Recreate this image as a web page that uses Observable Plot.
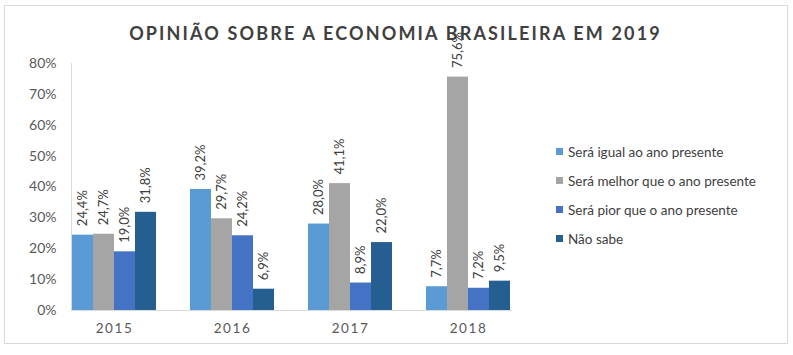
<!DOCTYPE html>
<html><head><meta charset="utf-8">
<script src="https://cdn.jsdelivr.net/npm/d3@7"></script>
<script src="https://cdn.jsdelivr.net/npm/@observablehq/plot@0.6"></script>
<style>
body{margin:0;background:#fff;font-family:Lato,"Open Sans",sans-serif;}
#wrap{position:relative;width:793px;height:355px;}
#border{position:absolute;left:4px;top:5px;width:784px;height:339px;border:1px solid #d9d9d9;box-sizing:border-box;}
#chart{position:absolute;left:0;top:0;}
#legend{position:absolute;left:556px;top:137px;font-size:13.5px;color:#404040;}
#legend div{height:29px;display:flex;align-items:center;}
#legend span.sw{display:inline-block;width:7px;height:7px;margin-right:5px;}
g[aria-label="fx-axis tick label"] text{letter-spacing:1.6px;}
</style></head>
<body><div id="wrap"><div id="border"></div><div id="chart"></div><div id="legend"></div></div>
<script>
const years = ["2015","2016","2017","2018"];
const series = ["Será igual ao ano presente","Será melhor que o ano presente","Será pior que o ano presente","Não sabe"];
const colors = ["#5B9BD5","#A5A5A5","#4472C4","#255E91"];
const igual  = [24.4, 39.2, 28.0, 7.7];
const melhor = [24.7, 29.7, 41.1, 75.6];
const pior   = [19.0, 24.2, 8.9, 7.2];
const naoSabe= [31.8, 6.9, 22.0, 9.5];
const yTicks = [0,10,20,30,40,50,60,70,80];
const title = "OPINIÃO SOBRE A ECONOMIA BRASILEIRA EM 2019";

const cols = [igual, melhor, pior, naoSabe];
const data = [];
years.forEach((y,i)=>series.forEach((s,j)=>data.push({year:y, series:s, value:cols[j][i]})));
const fmt = v => v.toFixed(1).replace(".", ",") + "%";

const plot = Plot.plot({
  width: 793, height: 355,
  marginLeft: 55, marginRight: 265, marginTop: 63, marginBottom: 45,
  style: {fontFamily: "Lato, 'Open Sans', sans-serif", background: "transparent", overflow: "visible"},
  fx: {domain: years, paddingInner: 0.271, paddingOuter: 0.1356, axis: null},
  x: {domain: series, padding: 0, axis: null},
  y: {domain: [0, 80], axis: null},
  color: {domain: series, range: colors},
  marks: [
    Plot.axisFx({anchor: "bottom", tickSize: 0, tickPadding: 13, fontSize: 13.5, fill: "#595959", label: null}),
    Plot.axisY({ticks: yTicks, tickSize: 0, tickPadding: 15, tickFormat: d => d + "%", fontSize: 14, fill: "#595959", label: null}),
    Plot.frame({anchor: "left", stroke: "#d9d9d9", facet: "super"}),
    Plot.frame({anchor: "bottom", stroke: "#d9d9d9", facet: "super"}),
    Plot.barY(data, {fx: "year", x: "series", y: "value", fill: "series", inset: 0}),
    Plot.text(data, {fx: "year", x: "series", y: "value", text: d => fmt(d.value), rotate: -90, textAnchor: "start", lineAnchor: "middle", dy: -9, fontSize: 13, fill: "#404040"}),
    Plot.text([title], {frameAnchor: "top", dx: 104, dy: -36, fontSize: 18, fontWeight: "bold", fill: "#404040", facet: "super"})
  ]
});
d3.select(plot).selectAll("text").filter(function(){ return this.textContent === title; }).style("letter-spacing", "2.15px");
document.getElementById("chart").appendChild(plot);

const lg = document.getElementById("legend");
series.forEach((s,i)=>{
  const d = document.createElement("div");
  d.innerHTML = `<span class="sw" style="background:${colors[i]}"></span>${s}`;
  lg.appendChild(d);
});
</script></body></html>
